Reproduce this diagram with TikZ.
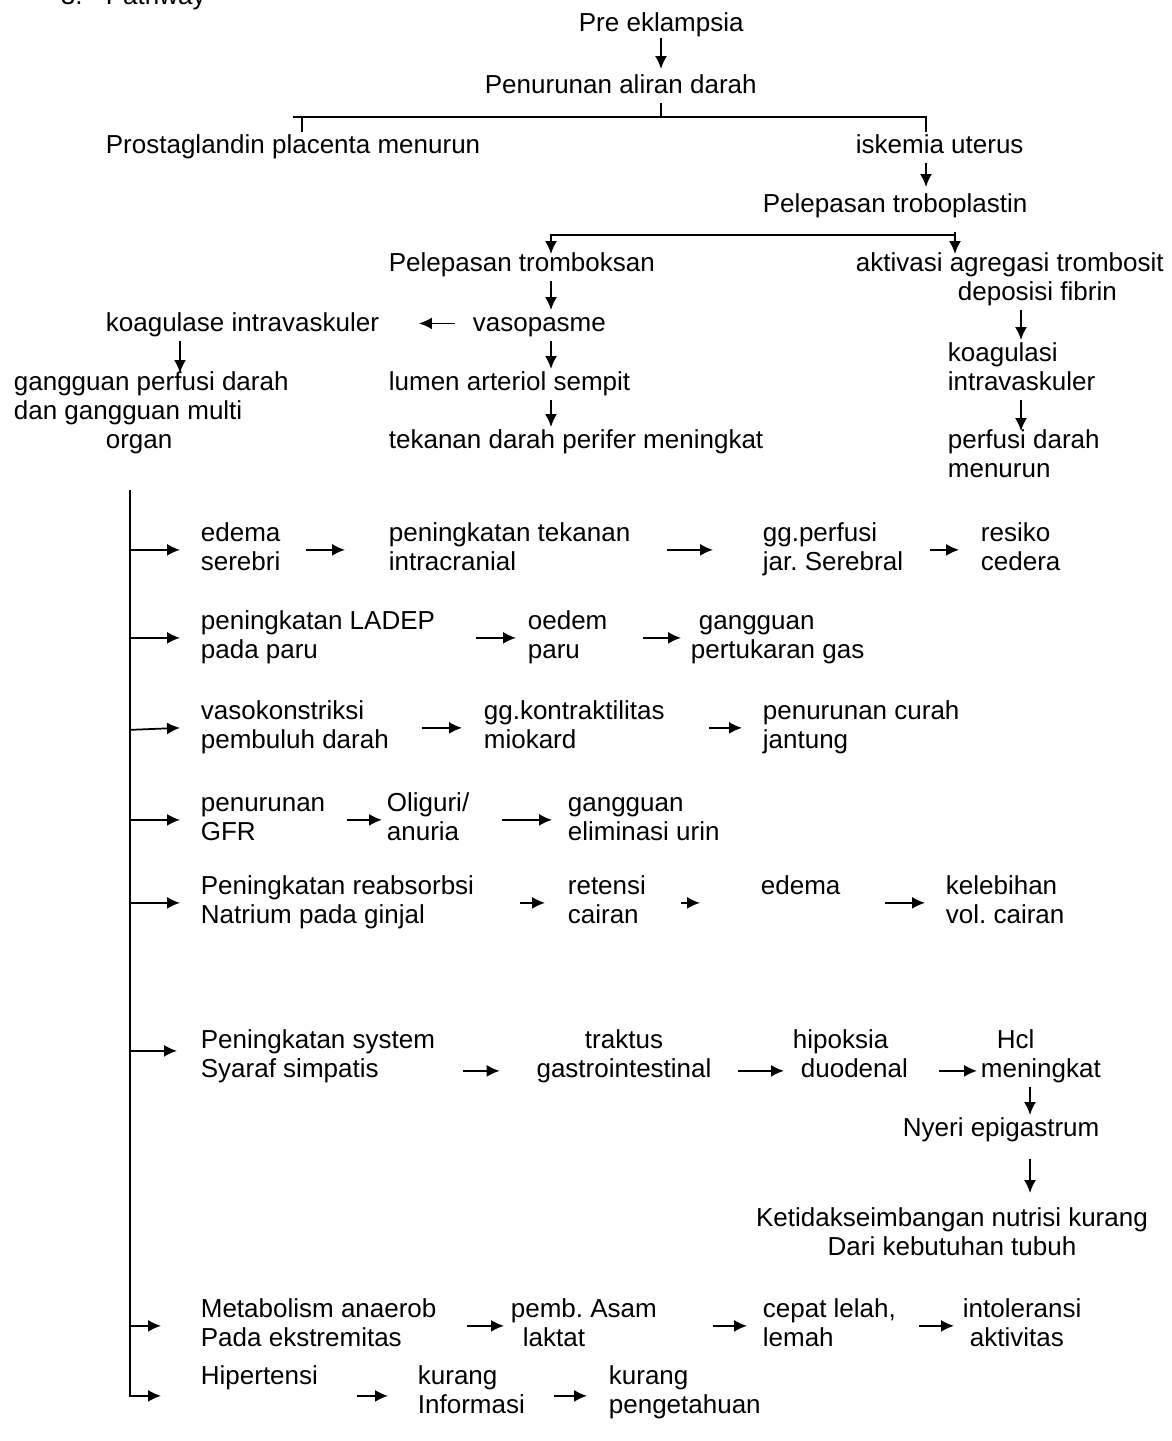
\documentclass[tikz,border=0pt]{standalone}
\usepackage{fontspec}
\setmainfont{Liberation Sans}
\usepackage{tikz}
\usetikzlibrary{calc,arrows.meta}
\newcommand{\pwfont}{\fontsize{14.8pt}{16.5pt}\selectfont}
\frenchspacing

\begin{document}
\begin{tikzpicture}[x=0.02cm, y=-0.02cm, line width=1pt]
\tikzstyle{tx}=[anchor=north west,align=left,inner sep=0pt,font=\pwfont,execute at begin node=\strut,execute at end node=\strut]
\tikzstyle{txc}=[tx,anchor=north,align=center]
\tikzstyle{ar}=[-{Latex[length=0.26cm,width=0.24cm]}]
\useasboundingbox (0,0) rectangle (1171,1441);
% top part
\node[tx] (num) at (60,-17) {3.};
\node[tx] (title) at (105,-17) {Pathway};
\node[tx] (pre) at (578,10) {Pre eklampsia};
\node[tx] (pen) at (484,72) {Penurunan aliran darah};
\node[tx] (pros) at (105,132) {Prostaglandin placenta menurun};
\node[tx] (isk) at (855,132) {iskemia uterus};
\node[tx] (trob) at (762,191) {Pelepasan troboplastin};
\node[tx] (tromb) at (388,250) {Pelepasan tromboksan};
\node[tx] (akt) at (855,250) {aktivasi agregasi trombosit};
\node[tx] (depo) at (957,279) {deposisi fibrin};
\node[tx] (koag) at (105,310) {koagulase intravaskuler};
\node[tx] (vaso) at (472,310) {vasopasme};
\node[tx] (koagi) at (947,340) {\strut koagulasi\\intravaskuler};
\node[tx] (gperf) at (13,369) {\strut gangguan perfusi darah\\dan gangguan multi\\\hspace*{1.84cm}organ};
\node[tx] (lumen) at (388,369) {lumen arteriol sempit};
\node[tx] (tek) at (388,427) {tekanan darah perifer meningkat};
\node[tx] (perf) at (947,427) {\strut perfusi darah\\menurun};
\coordinate (j0) at (661,117);
\coordinate (jl) at (302,117);
\coordinate (jr) at (926,117);
\coordinate (j1) at (955,235);
\coordinate (c0) at (180,0);
\coordinate (c1) at (551,235);
\coordinate (c2) at (1021,0);
\draw[ar] ($(pre.south -| j0)+(0,-3)$) -- ($(pen.north -| j0)+(0,-3)$);
\draw (pen.south -| j0) -- (j0);
\draw ($(jl)+(-9,0)$) -- (jr) -- (isk.north -| jr);
\draw (jl) -- (pros.north -| jl);
\draw[ar] (isk.south -| jr) -- ($(trob.north -| jr)+(0,-4)$);
\draw[ar] ($(trob.south -| j1)+(0,10)$) -- ($(akt.north -| j1)+(0,4)$);
\draw[ar] (j1) -- (c1) -- ($(tromb.north -| c1)+(0,4)$);
\draw[ar] (tromb.south -| c1) -- (vaso.north -| c1);
\draw[ar] (vaso.south -| c1) -- (lumen.north -| c1);
\draw[ar] (lumen.south -| c1) -- (tek.north -| c1);
\draw[ar] ($(vaso.west)+(-17,-2)$) -- ($(koag.east)+(39,-2)$);
\draw[ar] (koag.south -| c0) -- ($(gperf.north -| c0)+(0,4)$);
\draw[ar] (depo.south -| c2) -- (koagi.north -| c2);
\draw[ar] (koagi.south -| c2) -- ($(perf.north -| c2)+(0,4)$);
% rows
\node[tx] (r1a) at (200,520) {\strut edema\\serebri};
\node[tx] (r1b) at (388,520) {\strut peningkatan tekanan\\intracranial};
\node[tx] (r1c) at (762,520) {\strut gg.perfusi\\jar. Serebral};
\node[tx] (r1d) at (980,520) {\strut resiko\\cedera};
\node[tx] (r2a) at (200,608) {\strut peningkatan LADEP\\pada paru};
\node[tx] (r2b) at (527,608) {\strut oedem\\paru};
\node[tx] (r2c) at (690,608) {\strut\hspace*{0.16cm}gangguan\\pertukaran gas};
\node[tx] (r3a) at (200,698) {\strut vasokonstriksi\\pembuluh darah};
\node[tx] (r3b) at (483,698) {\strut gg.kontraktilitas\\miokard};
\node[tx] (r3c) at (762,698) {\strut penurunan curah\\jantung};
\node[tx] (r4a) at (200,790) {\strut penurunan\\GFR};
\node[tx] (r4b) at (386,790) {\strut Oliguri/\\anuria};
\node[tx] (r4c) at (567,790) {\strut gangguan\\eliminasi urin};
\node[tx] (r5a) at (200,873) {\strut Peningkatan reabsorbsi\\Natrium pada ginjal};
\node[tx] (r5b) at (567,873) {\strut retensi\\cairan};
\node[tx] (r5c) at (760,873) {edema};
\node[tx] (r5d) at (945,873) {\strut kelebihan\\vol. cairan};
\node[tx] (r6a) at (200,1027) {\strut Peningkatan system\\Syaraf simpatis};
\node[txc] (r6b) at (624,1027) {\strut traktus\\gastrointestinal};
\node[tx] (r6c) at (792,1027) {\strut hipoksia\\\hspace*{0.16cm}duodenal};
\node[tx] (r6d) at (980,1027) {\strut\hspace*{0.32cm}Hcl\\meningkat};
\node[tx] (nyeri) at (902,1115) {Nyeri epigastrum};
\node[txc] (keti) at (952,1205) {\strut Ketidakseimbangan nutrisi kurang\\Dari kebutuhan tubuh};
\node[tx] (r7a) at (200,1296) {\strut Metabolism anaerob\\Pada ekstremitas};
\node[tx] (r7b) at (510,1296) {\strut pemb. Asam\\\hspace*{0.24cm}laktat};
\node[tx] (r7c) at (762,1296) {\strut cepat lelah,\\lemah};
\node[tx] (r7d) at (962,1296) {\strut intoleransi\\\hspace*{0.14cm}aktivitas};
\node[tx] (r8a) at (200,1363) {Hipertensi};
\node[tx] (r8b) at (417,1363) {\strut kurang\\Informasi};
\node[tx] (r8c) at (608,1363) {\strut kurang\\pengetahuan};
\coordinate (t0) at (130,490);
\coordinate (c3) at (1030,0);
% trunk and branches
\draw[ar] (t0) |- ($(r8a.west |- r8b.west)+(-39,3)$);
\draw[ar] (r1a.west -| t0) -- ($(r1a.west)+(-20,0)$);
\draw[ar] (r2a.west -| t0) -- ($(r2a.west)+(-20,0)$);
\draw[ar] ($(r3a.west -| t0)+(0,2)$) -- ($(r3a.west)+(-20,0)$);
\draw[ar] (r4a.west -| t0) -- ($(r4a.west)+(-20,0)$);
\draw[ar] (r5a.west -| t0) -- ($(r5a.west)+(-20,0)$);
\draw[ar] ($(r6a.west -| t0)+(0,-6)$) -- ($(r6a.west)+(-23,-6)$);
\draw[ar] (r7a.west -| t0) -- ($(r7a.west)+(-39,0)$);
\draw[ar] ($(r1a.east)+(25,0)$) -- ($(r1b.west)+(-43,0)$);
\draw[ar] ($(r1b.east)+(36,0)$) -- ($(r1c.west)+(-49,0)$);
\draw[ar] ($(r1c.east)+(26,0)$) -- ($(r1d.west)+(-21,0)$);
\draw[ar] ($(r2a.east)+(40,0)$) -- ($(r2b.west)+(-11,0)$);
\draw[ar] ($(r2b.east)+(35,0)$) -- ($(r2c.west)+(-9,0)$);
\draw[ar] ($(r3a.east)+(32,0)$) -- ($(r3b.west)+(-21,0)$);
\draw[ar] ($(r3b.east)+(44,0)$) -- ($(r3c.west)+(-20,0)$);
\draw[ar] ($(r4a.east)+(21,0)$) -- ($(r4b.west)+(-4,0)$);
\draw[ar] ($(r4b.east)+(32,0)$) -- ($(r4c.west)+(-15,0)$);
\draw[ar] ($(r5a.east)+(45,0)$) -- ($(r5b.west)+(-22,0)$);
\draw[ar] ($(r5b.east)+(34,0)$) -- ($(r5b.east -| r5c.west)+(-60,0)$);
\draw[ar] ($(r5c.east |- r5d.west)+(44,0)$) -- ($(r5d.west)+(-20,0)$);
\draw[ar] ($(r6a.east)+(27,14)$) -- ($(r6b.west)+(-36,14)$);
\draw[ar] ($(r6b.east)+(26,14)$) -- ($(r6c.west)+(-8,14)$);
\draw[ar] ($(r6c.east)+(30,14)$) -- ($(r6d.west)+(-3,14)$);
\draw[ar] (r6d.south -| c3) -- (nyeri.north -| c3);
\draw[ar] ($(nyeri.south -| c3)+(0,13)$) -- ($(keti.north -| c3)+(0,-12)$);
\draw[ar] ($(r7a.east)+(30,0)$) -- ($(r7b.west)+(-6,0)$);
\draw[ar] ($(r7b.east)+(55,0)$) -- ($(r7c.west)+(-15,0)$);
\draw[ar] ($(r7c.east)+(22,0)$) -- ($(r7d.west)+(-8,0)$);
\draw[ar] ($(r8a.east |- r8b.west)+(38,3)$) -- ($(r8b.west)+(-29,3)$);
\draw[ar] ($(r8b.east)+(28,3)$) -- ($(r8c.west)+(-21,3)$);
\end{tikzpicture}
\end{document}
